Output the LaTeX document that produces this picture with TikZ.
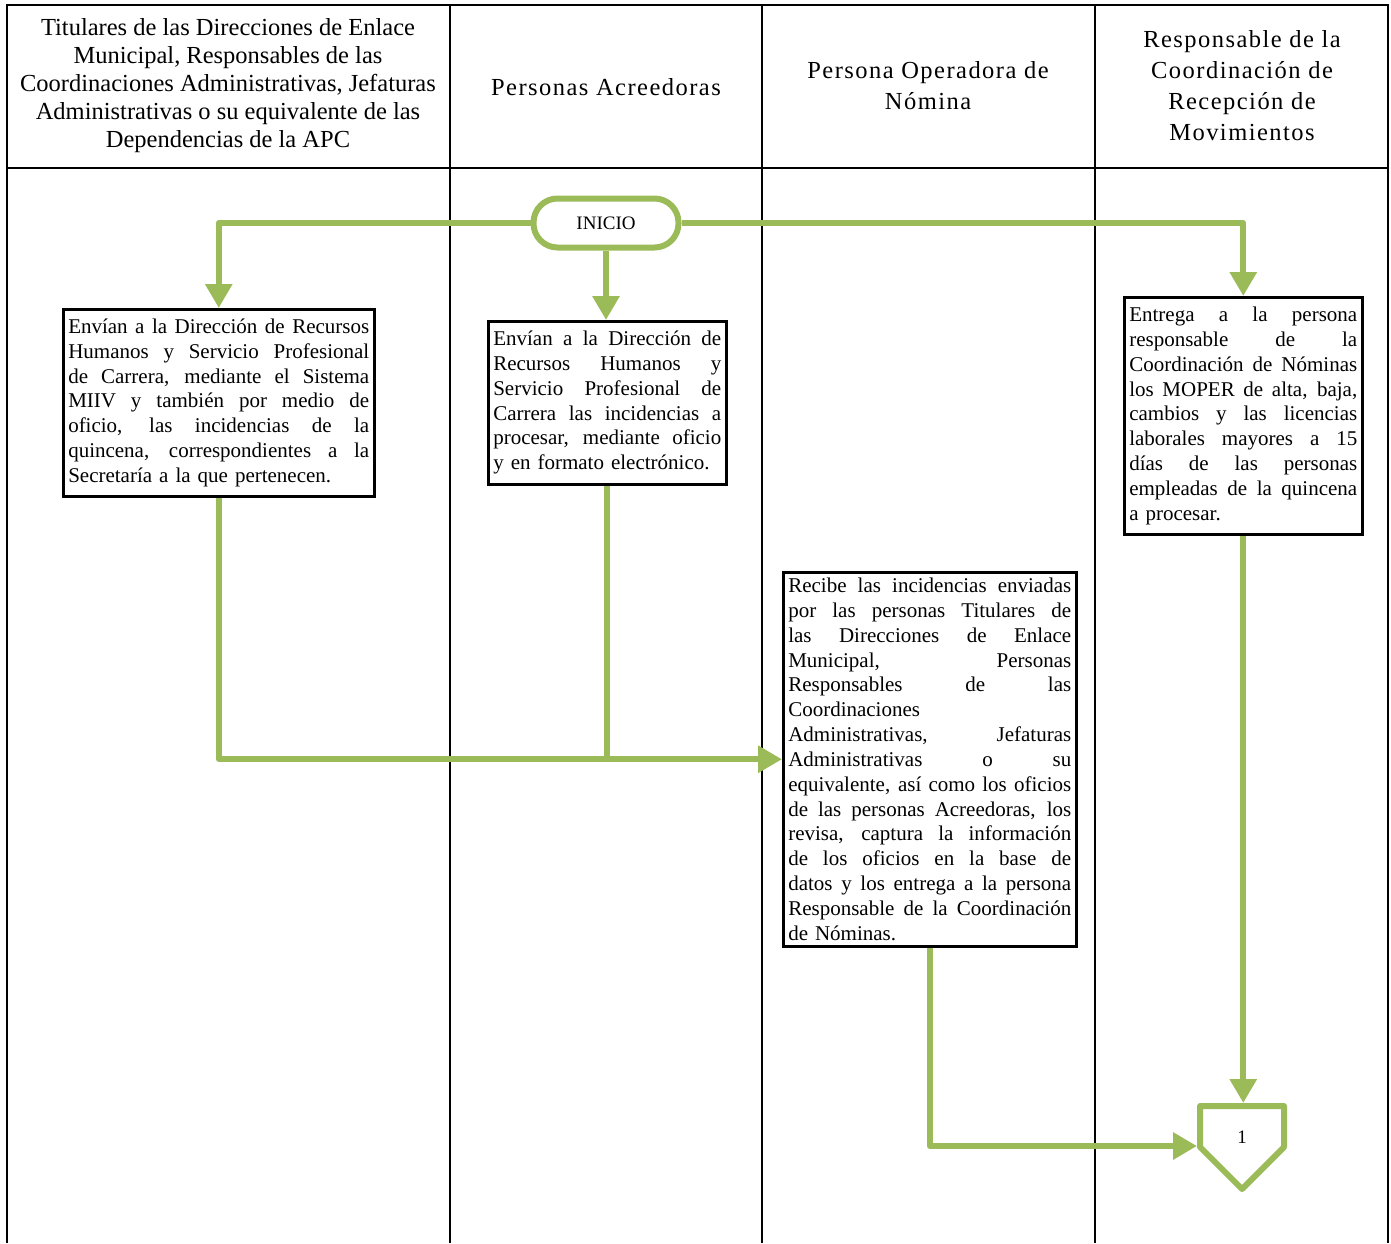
\documentclass[tikz,border=0pt]{standalone}
\usepackage{fontspec}
\setmainfont{Liberation Serif}
\usetikzlibrary{arrows.meta}
\definecolor{flowgreen}{RGB}{155,187,89}
\newcommand\jline[1]{\leavevmode\hbox to\hsize{\spaceskip=.25em plus 1fil\relax\xspaceskip=.3em plus 1fil\relax #1}}
\begin{document}
\begin{tikzpicture}[x=1pt,y=-1pt,
  lane/.style={draw=black,line width=2pt},
  flow/.style={draw=flowgreen,line width=6pt,line join=round},
  arr/.style={flow,-{Triangle[length=24pt,width=26pt]}},
  procbox/.style={draw=black,line width=2.5pt,fill=white,anchor=north west,inner xsep=5pt,inner ysep=2pt,align=left,font=\fontsize{21}{24.8}\selectfont},
  headA/.style={align=center,font=\fontsize{24.5}{28}\selectfont},
  headB/.style={align=center,font=\fontsize{24.5}{31}\selectfont\addfontfeature{LetterSpace=6}}
]
\useasboundingbox (0,0) rectangle (1391,1243);
% lanes
\draw[lane] (7,1243) -- (7,5) -- (1388,5) -- (1388,1243);
\draw[lane] (7,168) -- (1388,168);
\draw[lane] (450,5) -- (450,1243);
\draw[lane] (762,5) -- (762,1243);
\draw[lane] (1095,5) -- (1095,1243);
% headers
\node[headA] (h1) at (228,86) {Titulares de las Direcciones de Enlace\\Municipal, Responsables de las\\Coordinaciones Administrativas, Jefaturas\\Administrativas o su equivalente de las\\Dependencias de la APC};
\node[headB] (h2) at (606,87) {Personas Acreedoras};
\node[headB] (h3) at (928,86) {Persona Operadora de\\Nómina};
\node[headB] (h4) at (1242,86) {Responsable de la\\Coordinación de\\Recepción de\\Movimientos};
% start
\node[draw=flowgreen,line width=6pt,rounded corners=24pt,minimum width=145pt,minimum height=49pt,fill=white,font=\fontsize{19}{22}\selectfont] (start) at (606,223) {INICIO};
% boxes
\node[procbox,text width=301pt,minimum height=187pt] (b1) at (62,308) {%
\jline{Envían a la Dirección de Recursos}\\
\jline{Humanos y Servicio Profesional}\\
\jline{de Carrera, mediante el Sistema}\\
\jline{MIIV y también por medio de}\\
\jline{oficio, las incidencias de la}\\
\jline{quincena, correspondientes a la}\\
Secretaría a la que pertenecen.};
\node[procbox,text width=228pt,minimum height=163pt] (b2) at (487,320) {%
\jline{Envían a la Dirección de}\\
\jline{Recursos Humanos y}\\
\jline{Servicio Profesional de}\\
\jline{Carrera las incidencias a}\\
\jline{procesar, mediante oficio}\\
y en formato electrónico.};
\node[procbox,text width=228pt,minimum height=237pt] (b4) at (1123,296) {%
\jline{Entrega a la persona}\\
\jline{responsable de la}\\
\jline{Coordinación de Nóminas}\\
\jline{los MOPER de alta, baja,}\\
\jline{cambios y las licencias}\\
\jline{laborales mayores a 15}\\
\jline{días de las personas}\\
\jline{empleadas de la quincena}\\
a procesar.};
\node[procbox,text width=283pt,minimum height=374pt] (b3) at (782,571) {%
\jline{Recibe las incidencias enviadas}\\
\jline{por las personas Titulares de}\\
\jline{las Direcciones de Enlace}\\
\jline{Municipal, Personas}\\
\jline{Responsables de las}\\
Coordinaciones\\
\jline{Administrativas, Jefaturas}\\
\jline{Administrativas o su}\\
\jline{equivalente, así como los oficios}\\
\jline{de las personas Acreedoras, los}\\
\jline{revisa, captura la información}\\
\jline{de los oficios en la base de}\\
\jline{datos y los entrega a la persona}\\
\jline{Responsable de la Coordinación}\\
de Nóminas.};
% off-page connector
\draw[flow,fill=white] (1200,1106) -- (1284,1106) -- (1284,1147) -- (1242,1189) -- (1200,1147) -- cycle;
\node[font=\fontsize{19}{22}\selectfont] (c1) at (1242,1137) {1};
\coordinate (c1top) at (1242,1103);
\coordinate (c1left) at (1197,1146);
% connectors
\draw[arr] (start.west) -| (b1.north);
\draw[arr] (start.south) -- (start.south |- b2.north);
\draw[arr] (start.east) -| (b4.north);
\draw[arr] (b1.south) |- (b3.west);
\draw[flow] (b2.south) -- (b2.south |- b3.west);
\draw[arr] (b3.south) |- (c1left);
\draw[arr] (b4.south) -- (b4.south |- c1top);
\end{tikzpicture}
\end{document}
